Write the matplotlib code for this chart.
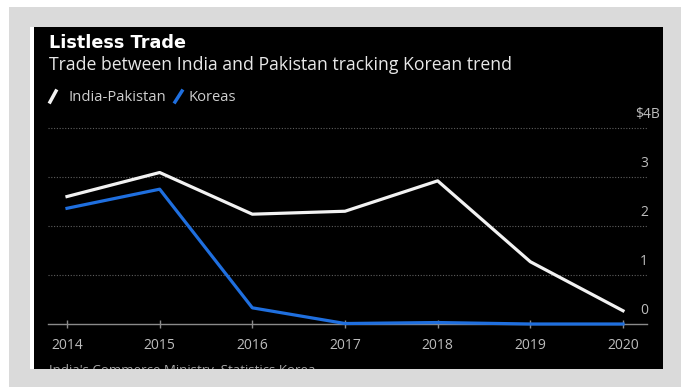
import matplotlib.pyplot as plt
from matplotlib.patches import Rectangle
from matplotlib.lines import Line2D

# trade values, billions of US dollars
years = [2014, 2015, 2016, 2017, 2018, 2019, 2020]
india_pakistan = [2.60, 3.09, 2.24, 2.30, 2.92, 1.27, 0.27]
koreas = [2.36, 2.75, 0.33, 0.01, 0.03, 0.0, 0.0]
series_names = ['India-Pakistan', 'Koreas']
y_ticks = [0, 1, 2, 3, 4]
y_labels = ['0', '1', '2', '3', '$4B']

W, H = 681, 387
WHITE = '#f2f2f2'
BLUE = '#1f6fdf'
GREY = '#bdbdbd'

plt.rcParams['font.family'] = ['Open Sans', 'DejaVu Sans']


def fx(px):
    return px / W


def fy(py):
    return 1 - py / H


fig = plt.figure(figsize=(W / 100, H / 100), dpi=100, facecolor='white')

# grey frame with a thin white edge left of the card
fig.patches.append(Rectangle((fx(9), 0), 1 - fx(9), fy(7), transform=fig.transFigure,
                             facecolor='#dadada', edgecolor='none', zorder=-2))
fig.patches.append(Rectangle((fx(30), fy(369)), fx(4), fy(27) - fy(369), transform=fig.transFigure,
                             facecolor='white', edgecolor='none', zorder=-1))

# black card holding titles, legend and source
card = fig.add_axes([fx(34), fy(369), fx(663) - fx(34), fy(27) - fy(369)])
card.set_facecolor('black')
card.set_xlim(34, 663)
card.set_ylim(369, 27)
card.set_xticks([])
card.set_yticks([])
for s in card.spines.values():
    s.set_visible(False)

card.text(49, 48, 'Listless Trade', color='white', fontsize=12.7, fontweight='bold',
          family='DejaVu Sans', va='baseline')
card.text(49, 70, 'Trade between India and Pakistan tracking Korean trend', color='#e8e8e8',
          fontsize=12.7, va='baseline')

# legend
card.add_line(Line2D([50, 56], [102, 91], color=WHITE, lw=2.5))
card.text(68, 101, series_names[0], color='#cfcfcf', fontsize=10.6, va='baseline')
card.add_line(Line2D([175, 182], [102, 91], color=BLUE, lw=2.5))
card.text(188, 101, series_names[1], color='#cfcfcf', fontsize=10.6, va='baseline')

# source line, cut off by the card edge
card.text(49, 374, "India's Commerce Ministry, Statistics Korea", color='#a8a8a8',
          fontsize=9.5, va='baseline', clip_on=True)

# main chart
x0, x1 = 48, 647
ytop, ybase = 123, 324
ax = fig.add_axes([fx(x0), fy(ybase), fx(x1) - fx(x0), fy(ytop) - fy(ybase)])
ax.patch.set_visible(False)
px_year = (623 - 67) / 6
ax.set_xlim(2014 - (67 - x0) / px_year, 2020 + (x1 - 623) / px_year)
ax.set_ylim(0, 4.1)

for v in y_ticks[1:]:
    ax.axhline(v, color='#5e5e5e', lw=0.8, linestyle=(0, (1, 1.5)), zorder=1)

ax.plot(years, koreas, color=BLUE, lw=2.3, clip_on=False, zorder=3)
ax.plot(years, india_pakistan, color=WHITE, lw=2.3, clip_on=False, zorder=4)

for s in ['top', 'left', 'right']:
    ax.spines[s].set_visible(False)
ax.spines['bottom'].set_color('#8a8a8a')
ax.spines['bottom'].set_linewidth(1.0)
ax.spines['bottom'].set_zorder(2)

ax.set_xticks(years)
ax.set_xticklabels([str(y) for y in years])
ax.tick_params(axis='x', colors='#8a8a8a', direction='inout', length=6, width=1,
               pad=7, labelcolor=GREY, labelsize=10)
ax.set_yticks([])

for v, lab in zip(y_ticks, y_labels):
    dx = 13 if lab.startswith('$') else 1
    ax.annotate(lab, xy=(1, v), xycoords=('axes fraction', 'data'), xytext=(dx, 13),
                textcoords='offset pixels', ha='right', va='center', color=GREY, fontsize=10)

fig.savefig('out.png', dpi=100, facecolor=fig.get_facecolor())
